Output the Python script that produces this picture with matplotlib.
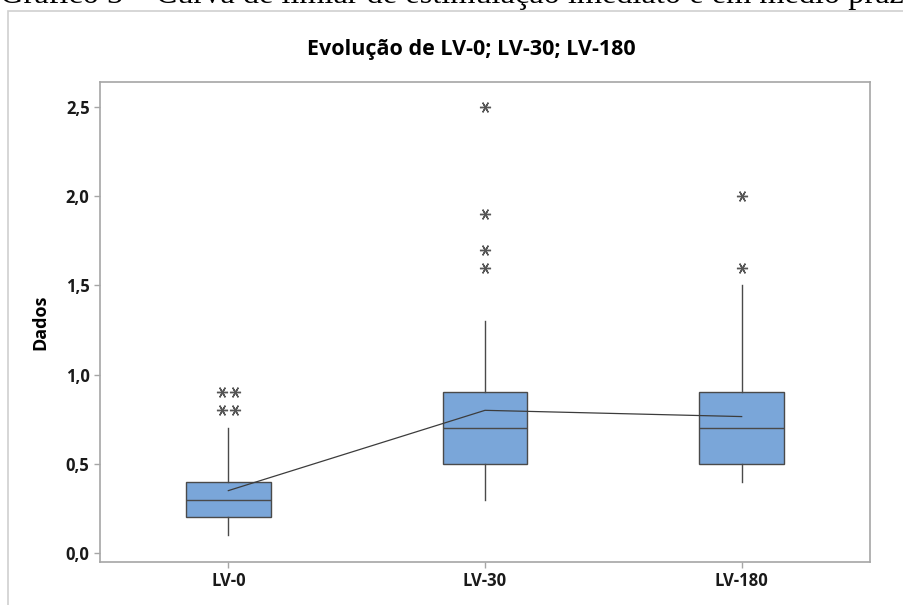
import matplotlib
matplotlib.use("Agg")
from matplotlib import pyplot as plt
from matplotlib.patches import Rectangle

# dados
grupos = ["LV-0", "LV-30", "LV-180"]
q1 = [0.2, 0.5, 0.5]
mediana = [0.3, 0.7, 0.7]
q3 = [0.4, 0.9, 0.9]
bigode_inf = [0.1, 0.3, 0.4]
bigode_sup = [0.7, 1.3, 1.5]
media = [0.35, 0.80, 0.765]
outliers = [[0.8, 0.8, 0.9, 0.9], [1.6, 1.7, 1.9, 2.5], [1.6, 2.0]]
y_ticks = [0.0, 0.5, 1.0, 1.5, 2.0, 2.5]

cor_caixa = "#7aa6d9"
cor_linha = "#4a4a4a"
cor_eixo = "#a6a6a6"
fonte = "Open Sans"


def main():
    fig = plt.figure(figsize=(9.04, 6.05), dpi=100)
    ax = fig.add_axes([100 / 904, 1 - 562 / 605, 770 / 904, 480 / 605])

    pos = list(range(1, len(grupos) + 1))
    stats = []
    for i in range(len(grupos)):
        stats.append({"q1": q1[i], "med": mediana[i], "q3": q3[i],
                      "whislo": bigode_inf[i], "whishi": bigode_sup[i],
                      "fliers": []})
    ax.bxp(stats, positions=pos, widths=0.33, patch_artist=True, showcaps=False,
           showfliers=False,
           boxprops=dict(facecolor=cor_caixa, edgecolor=cor_linha, linewidth=1),
           medianprops=dict(color=cor_linha, linewidth=1),
           whiskerprops=dict(color=cor_linha, linewidth=1))

    # outliers: valores repetidos lado a lado
    for p, vals in zip(pos, outliers):
        contagem = {}
        for v in vals:
            contagem[v] = contagem.get(v, 0) + 1
        for v, n in contagem.items():
            for k in range(n):
                dx = (k - (n - 1) / 2) * 0.052
                ax.plot(p + dx, v, linestyle="none", marker=(6, 2, 90),
                        markersize=8, markeredgewidth=1, color="#555555")

    # linha das médias
    ax.plot(pos, media, color="#3c3c3c", linewidth=0.9, zorder=4)

    ax.set_xlim(0.5, 3.5)
    ax.set_ylim(-0.05, 2.64)
    ax.set_xticks(pos)
    ax.set_xticklabels(grupos, fontfamily=fonte, fontweight="bold", fontsize=12)
    ax.set_yticks(y_ticks)
    ax.set_yticklabels(["{:.1f}".format(t).replace(".", ",") for t in y_ticks],
                       fontfamily=fonte, fontweight="bold", fontsize=12)
    ax.tick_params(colors=cor_eixo, labelcolor="#1a1a1a", length=4, width=1)
    for s in ax.spines.values():
        s.set_color(cor_eixo)
        s.set_linewidth(1.2)

    ax.set_ylabel("Dados", fontfamily=fonte, fontweight="bold", fontsize=13, labelpad=12)
    fig.text(471 / 904, 1 - 49 / 605, "Evolução de LV-0; LV-30; LV-180", ha="center", va="center",
             fontfamily=fonte, fontweight="bold", fontsize=15.5)

    # moldura do gráfico
    fig.patches.append(Rectangle((8 / 904, -0.05), 1.2, 1 - 11 / 605 + 0.05,
                                 transform=fig.transFigure, fill=False,
                                 edgecolor="#cfcfcf", linewidth=1.2))

    # legenda do documento, cortada no topo
    fig.text(0 / 904, 1 - 3.5 / 605, "Gráfico 3 – Curva de limiar de estimulação imediato e em médio prazo",
             ha="left", va="baseline", fontfamily="Liberation Serif", fontsize=23.3)

    fig.savefig("out.png", dpi=100)


if __name__ == "__main__":
    main()
